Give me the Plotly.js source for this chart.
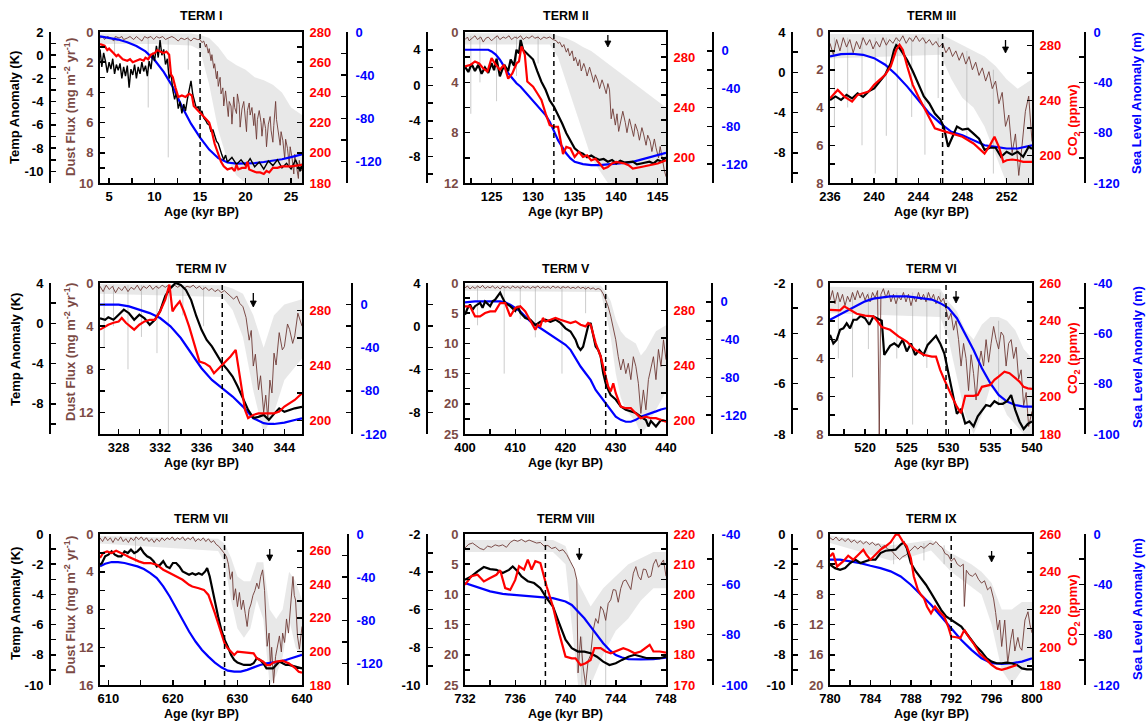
<!DOCTYPE html>
<html><head><meta charset="utf-8">
<script src="https://cdn.plot.ly/plotly-3.0.1.min.js"></script>
<style>html,body{margin:0;padding:0;background:#fff}#chart{width:1147px;height:721px}</style>
</head><body><div id="chart"></div>
<script>
// ---------------- DATA (age kyr BP, value) ----------------
const titles = ['TERM I','TERM II','TERM III','TERM IV','TERM V','TERM VI','TERM VII','TERM VIII','TERM IX'];

// Panel I
const temp1 = [[4.0,0.5],[4.2,-1.0],[4.4,0.2],[4.6,-0.5],[4.8,-1.5],[5.0,-0.6],[5.2,-1.2],[5.4,-0.3],[5.6,-1.6],[5.8,-0.8],[6.0,-1.3],[6.2,-0.7],[6.4,-2.0],[6.6,-1.0],[6.8,-1.8],[7.0,-0.9],[7.2,-2.8],[7.4,-1.2],[7.6,-1.7],[7.8,-0.8],[8.0,-2.0],[8.2,-1.0],[8.4,-1.6],[8.6,-0.6],[8.8,-1.4],[9.0,-0.9],[9.2,-1.8],[9.4,-0.5],[9.6,-1.2],[9.8,0.2],[10.0,-0.5],[10.2,0.8],[10.4,-0.2],[10.6,1.3],[10.8,0.0],[11.0,0.5],[11.2,-0.8],[11.4,-0.3],[11.6,-2.0],[11.8,-1.5],[12.0,-3.0],[12.2,-3.8],[12.4,-3.2],[12.6,-4.6],[12.8,-4.0],[13.0,-5.0],[13.2,-4.2],[13.4,-4.8],[13.6,-3.8],[13.8,-3.0],[14.0,-2.2],[14.2,-3.4],[14.4,-4.0],[14.6,-4.6],[14.8,-4.4],[15.0,-5.0],[15.2,-4.8],[15.4,-5.4],[15.6,-5.6],[15.8,-5.9],[16.0,-6.0],[16.2,-6.6],[16.4,-6.4],[16.6,-7.0],[16.8,-7.4],[17.0,-7.6],[17.2,-8.2],[17.4,-8.6],[17.6,-9.0],[17.8,-8.6],[18.0,-9.2],[18.5,-8.8],[19.0,-9.4],[19.5,-9.0],[20.0,-9.5],[20.5,-8.9],[21.0,-9.6],[21.5,-9.2],[22.0,-9.8],[22.5,-9.1],[23.0,-9.5],[23.5,-9.0],[24.0,-9.7],[24.5,-9.3],[25.0,-9.8],[25.5,-9.0],[26.0,-10.0],[26.2,-9.4]];
const co2_1 = [[4.0,272],[4.5,271],[4.8,268],[5.0,269],[5.5,266],[5.8,264],[6.0,265],[6.5,262],[7.0,261],[7.3,262],[7.6,260],[8.0,261],[8.4,262],[8.8,261],[9.0,263],[9.3,262],[9.6,265],[10.0,266],[10.3,268],[10.6,267],[11.0,266],[11.3,267],[11.6,265],[11.8,252],[12.0,250],[12.3,243],[12.6,237],[13.0,238],[13.4,237],[13.8,239],[14.1,238],[14.3,231],[14.8,228],[15.3,225],[15.7,222],[16.0,220],[16.3,214],[16.6,206],[17.0,199],[17.3,194],[17.6,191],[18.0,189],[18.5,190],[18.8,188],[19.0,192],[19.2,189],[19.6,190],[20.0,190],[20.2,194],[20.4,189],[20.8,188],[21.2,187],[21.6,187],[22.0,186],[22.3,188],[22.6,187],[23.0,190],[23.5,190],[24.0,191],[25.0,191],[26.2,192]];
const sea1 = [[4,-4],[5,-5.5],[6,-7],[7,-9.5],[8,-13],[9,-18],[10,-26],[11,-37],[12,-51],[13,-69],[14,-85],[15,-98],[16,-109],[17,-117],[18,-121],[19,-122],[20,-122],[21,-121.5],[22,-120.5],[23,-119.5],[24,-118],[25,-116],[26.2,-113.5]];
const dust1 = [[4.0,0.4],[4.3,0.3],[4.5,0.5],[4.8,0.3],[5.2,0.4],[5.5,0.6],[5.7,0.3],[6.1,0.4],[6.4,0.3],[6.6,0.5],[7.0,0.4],[7.3,0.3],[7.7,0.5],[8.0,0.3],[8.2,0.4],[8.6,0.6],[8.9,0.3],[9.2,0.4],[9.6,0.3],[9.9,0.5],[10.2,0.3],[10.5,0.4],[10.9,0.3],[11.2,0.5],[11.5,0.4],[11.9,0.3],[12.2,0.4],[12.6,0.6],[12.9,0.4],[13.3,0.5],[13.6,0.4],[14.0,0.6],[14.3,0.4],[14.7,0.5],[15.0,0.5],[15.2,0.7],[15.4,0.6],[15.6,1.0],[15.7,0.8],[15.9,1.4],[16.0,1.1],[16.2,1.9],[16.3,1.5],[16.5,2.4],[16.6,2.1],[16.8,3.1],[16.9,2.6],[17.0,3.6],[17.2,3.0],[17.3,4.1],[17.5,3.7],[17.6,4.9],[17.8,3.9],[17.9,4.4],[18.1,5.6],[18.2,4.6],[18.4,4.9],[18.5,6.1],[18.7,4.3],[18.8,5.0],[19.0,5.4],[19.1,4.1],[19.3,4.8],[19.4,6.3],[19.6,5.1],[19.8,4.6],[19.9,5.3],[20.1,6.6],[20.2,5.2],[20.4,4.7],[20.5,5.5],[20.7,5.0],[20.9,6.2],[21.0,5.4],[21.2,7.1],[21.3,5.8],[21.5,5.2],[21.7,6.0],[21.8,6.9],[22.0,5.7],[22.2,6.4],[22.3,7.6],[22.5,6.1],[22.7,5.6],[22.8,6.5],[23.0,7.3],[23.1,6.2],[23.3,4.6],[23.4,5.8],[23.6,6.8],[23.8,7.5],[23.9,6.6],[24.1,7.2],[24.3,8.4],[24.4,7.1],[24.6,7.7],[24.8,8.8],[24.9,7.6],[25.1,8.3],[25.3,9.4],[25.4,8.1],[25.6,8.9],[25.8,9.7],[25.9,8.5],[26.1,9.2],[26.2,8.7]];
const spikes1 = [[5.6,0.3,1.5],[9.3,0.3,5],[11.5,0.4,8.3],[13.7,0.3,2.5]];
const band1 = [[4,0.1,0.8],[10,0.1,0.8],[14,0.1,0.9],[15,0.2,1.2],[16,0.4,3.5],[17,1,6.5],[18,1.8,8.5],[19,2.2,9.5],[20,2.5,10],[21,3,10],[22,3.2,10],[23,3.5,10],[24,4,10],[25,5,10],[26.2,5.5,10]];

// Panel II
const temp2 = [[121.8,2.1],[122.2,1.5],[122.6,2.4],[123.0,1.6],[123.4,2.3],[123.8,1.3],[124.2,2.0],[124.6,1.4],[125.0,2.5],[125.3,1.7],[125.6,3.0],[126.0,1.0],[126.3,1.8],[126.6,2.2],[127.0,1.6],[127.3,2.9],[127.7,2.2],[128.0,4.0],[128.3,3.6],[128.5,5.1],[128.8,4.0],[129.0,3.8],[129.5,3.4],[130.0,2.9],[130.5,1.6],[131.0,0.4],[131.5,-0.5],[132.0,-1.7],[132.5,-2.4],[133.0,-3.3],[133.5,-4.3],[134.0,-5.4],[134.5,-6.2],[135.0,-7.1],[135.5,-7.5],[136.0,-7.7],[136.5,-8.1],[137.0,-7.9],[137.5,-8.2],[138.0,-8.4],[138.5,-8.3],[139.0,-8.6],[139.5,-8.4],[140.0,-8.8],[140.5,-8.5],[141.0,-8.7],[142.0,-8.6],[142.5,-8.9],[143.0,-8.8],[144.0,-8.6],[144.5,-8.8],[145.0,-8.4],[145.5,-8.6],[146.0,-8.1]];
const co2_2 = [[121.8,272.6],[122.5,274],[123.0,276.6],[123.5,275],[124.0,271],[124.5,268.6],[125.0,279.2],[125.5,274],[126.0,270],[126.5,274],[127.0,263],[127.5,267],[128.0,275],[128.3,276.6],[128.6,288.6],[129.0,282],[129.3,260.6],[130.0,256.6],[130.5,251.3],[131.0,246],[131.5,235.3],[132.0,226],[132.5,224.7],[133.0,224.7],[133.3,214],[133.6,203],[134.0,208.7],[134.5,207.5],[135.0,200.7],[135.5,204.7],[136.0,200.7],[136.5,202],[137.0,198],[137.5,199.3],[138.0,195.5],[138.5,191.4],[139.0,192.7],[139.5,195.5],[140.0,196.8],[141.0,195.5],[141.5,194.2],[142.0,191.4],[143.0,192.7],[144.0,194.2],[145.0,195.5],[146.0,198]];
const sea2 = [[121.8,1.2],[123,1.2],[124.6,1.2],[125,-0.6],[125.5,-4],[126,-9.4],[126.5,-16.5],[127,-23.6],[127.5,-29],[128,-34.3],[128.5,-38],[129,-43],[129.5,-47],[130,-52],[130.5,-57.3],[131,-62.6],[131.5,-68],[132,-75],[132.5,-84],[133,-94.6],[133.5,-101.7],[134,-108.8],[134.5,-114],[135,-117.6],[136,-120],[137,-121],[138,-121],[139,-120.4],[140,-119.4],[141,-118.7],[142,-117.6],[143,-115.2],[144,-113],[145,-110.6],[146,-108]];
const dust2 = [[121.8,0.6],[122.1,0.4],[122.3,0.7],[122.7,0.5],[123.0,0.3],[123.3,0.6],[123.7,0.4],[124.0,0.8],[124.3,0.5],[124.6,0.4],[125.0,0.7],[125.3,0.5],[125.7,0.3],[126.0,0.6],[126.4,0.4],[126.7,0.5],[127.1,0.3],[127.4,0.6],[127.8,0.4],[128.1,0.5],[128.5,0.3],[128.8,0.6],[129.2,0.4],[129.5,0.5],[129.9,0.3],[130.2,0.5],[130.6,0.4],[130.9,0.6],[131.3,0.4],[131.6,0.5],[132.0,0.4],[132.4,0.6],[132.8,0.7],[133.0,0.9],[133.2,0.8],[133.5,1.2],[133.7,1.0],[134.0,1.6],[134.2,1.3],[134.4,1.9],[134.7,1.5],[134.9,2.3],[135.1,2.0],[135.4,2.7],[135.6,2.2],[135.8,3.1],[136.1,2.5],[136.3,2.9],[136.5,3.5],[136.8,2.8],[137.0,3.3],[137.3,4.0],[137.5,3.4],[137.8,3.9],[138.0,4.5],[138.3,3.8],[138.5,4.2],[138.8,4.9],[139.0,4.1],[139.2,4.6],[139.4,6.9],[139.6,6.1],[139.9,7.4],[140.1,6.5],[140.3,7.9],[140.6,7.0],[140.8,6.3],[141.1,7.2],[141.3,8.0],[141.6,6.9],[141.8,7.5],[142.1,8.3],[142.3,7.3],[142.6,7.9],[142.8,8.6],[143.1,7.6],[143.3,8.1],[143.6,9.0],[143.8,8.2],[144.1,8.7],[144.3,9.5],[144.6,8.5],[144.8,9.2],[145.1,10.0],[145.3,9.1],[145.6,10.4],[145.8,11.0],[146.0,11.5]];
const spikes2 = [[122.5,0.3,6.5],[123.6,0.3,4],[125.6,0.3,5.5],[128,0.3,3.5],[130.6,0.3,2.5]];
const band2 = [[121.8,0.1,1.0],[132,0.1,1.0],[133,0.3,2],[134,0.5,4],[135,0.8,6],[136,1.2,8],[137,1.5,10],[138,2,11],[139,2.5,12],[140,3,12],[142,4,12],[144,5,12],[146,6,12]];

// Panel III
const temp3 = [[236,-2.75],[236.5,-2.4],[237,-2.75],[237.5,-2.25],[238,-2.6],[238.5,-2.1],[239,-2.45],[239.5,-1.9],[240,-1.6],[240.5,-0.9],[241,-0.25],[241.5,0.9],[241.8,2.2],[242,2.7],[242.3,2.4],[242.6,1.9],[243,1.2],[243.5,0.1],[244,-1.1],[244.5,-2.4],[245,-3.1],[245.5,-4.1],[246,-4.7],[246.3,-5.4],[246.7,-7.4],[247,-6.7],[247.5,-5.4],[248,-5.7],[248.5,-5.6],[249,-6.1],[249.5,-6.6],[250,-7.7],[250.5,-7.5],[251,-7.5],[251.5,-8.4],[252,-7.9],[252.5,-8.2],[253,-7.9],[253.5,-8.4],[254,-7.4],[254.3,-7.6]];
const co2_3 = [[236,241.7],[236.7,247.8],[237.3,243],[238,239.3],[238.5,244.2],[239,245.4],[239.5,246.6],[240,251.5],[240.5,255],[241,258.8],[241.5,264.9],[242,277],[242.3,280.7],[242.6,277],[243,264.9],[243.5,251.5],[244,243],[244.5,235.6],[245,228.3],[245.5,219.8],[246,218.5],[246.5,217.3],[247,216],[248,213.7],[249,208.8],[250,201.5],[250.5,207.6],[250.9,213.7],[251.3,206.4],[251.7,195.4],[252,196.6],[252.5,197.1],[253,196.6],[253.5,195.4],[254.3,195.4]];
const sea3 = [[236,-19.4],[237,-17.6],[238,-17.3],[239,-18.1],[240,-20.8],[241,-26],[242,-34],[243,-43.4],[244,-54],[245,-64.7],[246,-72.6],[247,-79.3],[248,-82],[249,-86],[250,-90],[251,-91.3],[252,-92.6],[253,-92.6],[254.3,-90]];
const dust3 = [[236,0.6],[236.3,1.2],[236.6,0.4],[236.9,1.0],[237.2,0.3],[237.5,0.8],[237.8,0.4],[238.1,1.1],[238.4,0.5],[238.7,0.9],[239,0.3],[239.3,0.7],[239.6,0.4],[239.9,0.9],[240.2,0.5],[240.5,0.8],[240.8,0.3],[241.1,0.7],[241.4,0.4],[241.7,0.6],[242,0.3],[242.3,0.5],[242.6,0.2],[242.9,0.6],[243.2,0.3],[243.5,0.5],[243.8,0.2],[244.1,0.5],[244.4,0.3],[244.7,0.6],[245,0.4],[245.3,0.7],[245.6,0.5],[245.9,0.8],[246.2,0.6],[246.5,1.1],[246.8,0.8],[247.1,1.3],[247.4,1.0],[247.7,1.5],[248,1.1],[248.3,1.7],[248.6,1.3],[248.9,2.0],[249.2,1.6],[249.5,2.3],[249.8,1.9],[250.1,2.6],[250.4,2.1],[250.7,3.0],[251,2.6],[251.3,3.8],[251.6,3.2],[251.9,5.0],[252.2,4.4],[252.5,6.4],[252.8,5.4],[253.1,7.6],[253.4,6.0],[253.7,4.2],[254,3.4],[254.3,5.8]];
const spikes3 = [[236.4,0.3,5],[237.6,0.3,4],[238.9,0.3,6],[240.1,0.3,7.5],[241.1,0.3,5.5],[242.1,0.3,8],[243.4,0.3,4.5],[244.6,0.3,6.5],[245.8,0.3,3.5],[248.4,1,5.5],[250.8,2,7.5]];
const band3 = [[236,0.1,1.4],[246,0.1,1.2],[247,0.4,2.5],[248,0.7,3.5],[249,1,4],[250,1.3,5],[251,1.8,6.5],[252,2.5,8],[253,3,8],[254.3,2.5,8]];

// Panel IV
const temp4 = [[326.2,0.5],[326.7,0.35],[327,0.6],[327.5,0.35],[328,0.85],[328.5,1.35],[329,1.0],[329.5,0.35],[330,0.85],[330.5,0.5],[331,-0.15],[331.5,0.35],[332,1.2],[332.5,2.7],[333,3.5],[333.5,4.0],[334,3.8],[334.5,3.3],[335,2.3],[335.5,0.7],[336,-0.65],[336.5,-1.65],[337,-2.3],[337.5,-3.1],[338,-4.0],[338.5,-4.6],[339,-5.3],[339.5,-6.3],[340,-7.5],[340.5,-8.6],[341,-9.4],[341.5,-9.3],[342,-9.1],[342.5,-9.6],[343,-9.0],[343.5,-8.45],[344,-8.8],[344.5,-8.6],[345,-8.45],[345.7,-8.3]];
const co2_4 = [[326.2,266],[327,269.6],[327.5,271],[328,272],[328.3,274.5],[328.7,271],[329.5,266],[330,269.6],[330.5,272],[331,273.2],[331.5,273.2],[332,279.3],[332.5,287.8],[332.9,298.8],[333.2,279.3],[333.5,282.9],[333.9,286.6],[334.3,279.3],[334.8,268.4],[335.3,256.2],[335.8,242.8],[336.3,241.6],[336.8,239.2],[337.2,234.3],[337.7,238],[338.3,242.8],[338.8,246.5],[339.3,251.3],[339.7,231.9],[340.2,207.5],[340.5,201.5],[341,203.9],[341.5,205],[342,205],[343,205],[343.5,206.3],[344,210],[345,214.8],[345.7,219.7]];
const sea4 = [[326.2,-0.1],[327,-0.1],[328,-0.1],[329,-1.7],[330,-4.8],[331,-7.9],[332,-12.5],[333,-20.2],[334,-31],[335,-45],[336,-59],[337,-69.8],[338,-77.5],[339,-85.3],[340,-94.6],[341,-105.4],[342,-110],[342.5,-110.7],[343,-110.7],[344,-109.5],[345,-107],[345.7,-105.4]];
const dust4 = [[326.2,0.3],[326.5,0.8],[326.8,0.2],[327.1,0.6],[327.4,0.3],[327.7,0.9],[328,0.4],[328.3,0.7],[328.6,0.3],[328.9,0.8],[329.2,0.4],[329.5,0.6],[329.8,0.2],[330.1,0.7],[330.4,0.3],[330.7,0.5],[331,0.2],[331.3,0.6],[331.6,0.3],[331.9,0.5],[332.2,0.2],[332.5,0.4],[332.8,0.2],[333.1,0.5],[333.4,0.2],[333.7,0.4],[334,0.2],[334.3,0.5],[334.6,0.3],[334.9,0.4],[335.2,0.2],[335.5,0.5],[335.8,0.3],[336.1,0.6],[336.4,0.4],[336.7,0.7],[337,0.5],[337.3,0.8],[337.6,0.6],[337.9,0.9],[338.2,0.7],[338.5,1.0],[338.8,1.2],[339.1,1.5],[339.4,1.2],[339.7,1.9],[340,2.2],[340.3,3.2],[340.6,5.3],[340.8,4.4],[341,7.7],[341.2,6.6],[341.5,9.9],[341.7,8.6],[342,12],[342.2,10.4],[342.4,12.6],[342.6,9.0],[342.8,10.2],[343,6.5],[343.2,7.6],[343.5,4.6],[343.8,6.2],[344,5.9],[344.3,3.8],[344.5,4.3],[344.8,5.6],[345,4.9],[345.3,2.8],[345.5,3.4],[345.7,4.0]];
const spikes4 = [[326.6,0.2,6],[327.5,0.2,4],[328.9,0.2,8],[330.2,0.2,5],[331.7,0.2,6.5],[332.8,0.2,14],[334.2,0.2,3],[336.2,0.3,4]];
const band4 = [[326.2,0.1,1],[338,0.2,1.3],[339,0.5,2.5],[340,1,5],[341,3,10],[342,6,14],[343,3,12],[344,2,9],[345.7,1.5,7]];

// Panel V
const temp5 = [[400,1.05],[400.5,1.65],[401,2.0],[401.5,1.5],[402,1.85],[403,2.15],[403.5,1.7],[404,2.3],[405,1.85],[405.5,2.3],[406,2.45],[406.5,2.75],[407,3.1],[407.5,2.6],[408,2.15],[409,1.85],[410,1.4],[410.5,1.85],[411,1.25],[412,0.75],[413,0.6],[414,0.1],[415,0.4],[416,0.6],[417,0.4],[418,0.6],[419,0.3],[420,-0.2],[421,-0.5],[422,-1.25],[422.5,-1.9],[423,-2.2],[423.5,-1.9],[424,-0.95],[424.5,0.0],[425,0.3],[425.5,-0.95],[426,-1.9],[426.5,-2.2],[427,-2.8],[427.5,-4.35],[428,-5.3],[428.5,-5.9],[429,-6.4],[430,-6.8],[431,-7.45],[432,-7.75],[433,-7.9],[434,-8.05],[435,-8.4],[436,-8.7],[436.5,-9.3],[437,-8.8],[438,-9.3],[439,-8.7],[440,-8.8]];
const co2_5 = [[400,283],[401,283],[402,275.7],[403,275.7],[404,278.1],[405,279.3],[406,279.3],[407,285.4],[408,285.4],[409,275.7],[410,281.8],[411,283],[412,279.3],[413,273],[414,266],[414.5,269.6],[415,268.4],[415.5,274.5],[416,272],[417,273.2],[418,274.5],[419,273.2],[420,272],[421,270.8],[422,272],[423,269.6],[424,268.4],[424.5,270.8],[425,269.6],[426,256.2],[427,246.5],[428,231.9],[428.5,224.6],[429,221],[429.5,227],[430,219.7],[431,210],[432,208.8],[433,208.8],[434,205],[435,201.5],[436,202.6],[437,201.5],[438,201.5],[439,200.2],[440,199]];
const sea5 = [[400,-0.5],[402,0.5],[404,0.5],[406,0.5],[407,0.5],[408,-0.5],[409,-3],[410,-6.5],[411,-10],[412,-15.4],[413,-20.7],[414,-24.2],[415,-27.8],[416,-31.3],[417,-34.9],[418,-38.4],[419,-42],[420,-45.5],[421,-50.8],[422,-59.6],[423,-68.5],[424,-75.6],[425,-82.7],[426,-93.3],[427,-100.4],[428,-107.4],[429,-114.5],[430,-121.6],[431,-125],[432,-127],[433,-127],[434,-125],[435,-121.6],[436,-120],[437,-118],[438,-116],[439,-114],[440,-112.7]];
const dust5 = [[400,0.8],[400.5,0.5],[401,1.0],[401.5,0.6],[402,0.9],[402.5,0.5],[403,0.8],[403.5,0.4],[404,0.9],[404.5,0.6],[405,0.8],[405.5,0.5],[406,0.9],[406.5,0.6],[407,1.0],[407.5,0.5],[408,0.8],[408.5,0.6],[409,0.9],[409.5,0.5],[410,0.8],[410.5,0.6],[411,0.9],[411.5,0.5],[412,0.8],[412.5,0.6],[413,0.9],[413.5,0.6],[414,0.8],[414.5,0.5],[415,0.9],[415.5,0.6],[416,0.8],[416.5,0.6],[417,0.9],[417.5,0.5],[418,0.8],[418.5,0.6],[419,0.9],[419.5,0.6],[420,0.8],[420.5,0.6],[421,0.9],[421.5,0.7],[422,0.9],[422.5,0.6],[423,0.9],[423.5,0.7],[424,1.0],[424.5,0.7],[425,1.0],[425.5,0.8],[426,1.1],[426.5,0.9],[427,1.1],[427.5,1.8],[428,2.8],[428.5,3.9],[429,5.5],[429.5,7.2],[430,9.4],[430.5,12.2],[431,14.4],[431.5,12.6],[432,15],[432.5,13.3],[433,16],[433.5,12.2],[434,13.8],[434.5,16.6],[435,21.6],[435.5,17.7],[436,21],[436.5,16],[437,13.8],[437.5,12.2],[438,16],[438.5,11],[439,13.8],[439.5,9.4],[440,12.7]];
const spikes5 = [[402.5,0.5,7],[407.8,0.5,15],[411,0.5,6],[414,0.5,9],[419.3,0.5,15],[424,0.5,5]];
const band5 = [[400,0.3,1.3],[427,0.4,1.5],[428,1.5,5],[429,3,9],[430,6,15],[431,8,19],[432,9,21],[434,10,23],[435,12,25],[436,11,24],[438,8,21],[440,7,18]];

// Panel VI
const temp6 = [[515.8,-4.06],[516.2,-4.4],[516.6,-4.26],[517,-3.86],[517.4,-3.8],[517.8,-3.6],[518.2,-3.8],[518.6,-3.46],[519,-3.46],[519.5,-3.3],[520,-3.4],[520.5,-3.66],[521,-3.33],[521.5,-3.4],[522,-3.5],[522.3,-4.86],[522.7,-4.66],[523,-4.5],[523.5,-4.4],[524,-4.53],[524.5,-4.26],[525,-4.72],[525.5,-4.4],[526,-4.86],[526.5,-4.66],[527,-4.86],[527.5,-4.46],[528,-4.26],[528.5,-4.1],[529,-4.4],[529.5,-4.8],[530,-5.6],[530.5,-6.4],[531,-7.2],[531.5,-7.0],[532,-7.58],[532.5,-7.5],[533,-7.7],[533.5,-7.3],[534,-7.05],[534.5,-6.85],[535,-6.9],[535.5,-6.7],[536,-6.8],[536.5,-6.8],[537,-6.7],[537.5,-6.45],[538,-7.05],[538.5,-7.5],[539,-7.8],[539.5,-7.6],[540,-7.5]];
const co2_6 = [[515.8,245.8],[516.5,245.5],[517,245.5],[517.5,247.6],[518,246.2],[519,243.7],[520,242.7],[521,242.3],[521.5,239.6],[522,236.6],[523,235.2],[524,231.7],[525,229],[526,224.6],[527,222],[528,221],[528.5,221],[529,214],[529.5,208.7],[530,203.4],[530.5,199],[531,194.5],[531.5,191],[532,200.2],[533,200.2],[533.5,200.7],[534,205],[535,206],[535.5,208.7],[536,210.4],[536.7,213],[537.3,212.2],[538,209.6],[538.5,207.8],[539,205],[539.5,204.2],[540,203.9]];
const sea6 = [[515.8,-54.6],[517,-52.6],[518,-50.9],[519,-49.3],[520,-47.3],[521,-46.2],[522,-45.6],[523,-45.3],[524,-45.3],[525,-45.3],[526,-45.7],[527,-46.2],[528,-46.6],[529,-48],[530,-50],[531,-54],[532,-60],[533,-66.6],[534,-73.9],[535,-79.8],[536,-84.5],[537,-87.1],[538,-88.5],[539,-89.1],[540,-89.1]];
const dust6 = [[515.8,0.9],[516.1,0.4],[516.4,1.1],[516.7,0.5],[517,1.0],[517.3,0.6],[517.6,1.2],[517.9,0.7],[518.2,1.0],[518.5,0.5],[518.8,0.9],[519.1,0.4],[519.4,0.8],[519.7,0.5],[520,0.9],[520.3,0.6],[520.6,1.0],[520.9,0.5],[521.2,0.8],[521.5,0.4],[521.7,8],[521.9,0.6],[522.2,0.3],[522.5,0.8],[522.8,0.4],[523.1,1.0],[523.4,0.6],[523.7,1.1],[524,0.7],[524.3,0.9],[524.6,0.5],[524.9,1.0],[525.2,0.6],[525.5,1.2],[525.8,0.7],[526.1,1.0],[526.4,0.5],[526.7,0.9],[527,0.6],[527.3,1.0],[527.6,0.5],[527.9,0.9],[528.2,0.6],[528.5,1.1],[528.8,0.7],[529.1,1.0],[529.4,0.8],[529.7,1.3],[530,1.95],[530.3,1.6],[530.6,2.5],[530.9,2.0],[531.2,3.0],[531.5,4.4],[531.8,3.2],[532.1,4.0],[532.4,5.7],[532.7,3.8],[533,4.8],[533.3,6.2],[533.6,4.4],[533.9,3.6],[534.2,4.4],[534.5,3.0],[534.8,4.2],[535.1,3.2],[535.4,2.3],[535.7,3.0],[536,3.5],[536.3,2.6],[536.6,2.8],[536.9,4.4],[537.2,3.2],[537.5,3.0],[537.8,4.0],[538.1,3.4],[538.4,5.1],[538.7,4.6],[539,6.5],[539.3,5.8],[539.6,7.6],[540,6.8]];
const spikes6 = [[516.8,0.5,4],[518.5,0.5,5],[520.4,0.5,3.5],[523.8,0.5,4],[525.7,0.5,7.5],[527.4,0.5,4.5],[529,0.5,3],[536,2,6.5]];
const band6 = [[515.8,0.2,1.6],[529,0.3,1.8],[530,1,3],[531,1.5,5],[532,2.5,7],[533,3,8],[534,2.2,7],[535,1.8,5.5],[536,1.8,6],[537,2,7],[538,2.5,7.5],[539,3.5,8],[540,4,8]];

// Panel VII
const temp7 = [[608.7,-2.03],[609,-1.92],[609.5,-1.48],[610,-1.37],[610.5,-1.15],[611,-1.37],[611.5,-1.48],[612,-1.48],[612.5,-1.15],[613,-1.26],[613.5,-1.04],[614,-1.26],[614.5,-1.15],[615,-0.93],[615.5,-1.26],[616,-1.48],[616.5,-1.59],[617,-1.8],[617.5,-2.15],[618,-2.04],[618.5,-1.8],[619,-2.15],[619.5,-2.26],[620,-1.92],[620.5,-1.92],[621,-2.15],[621.5,-2.48],[622,-2.6],[622.5,-2.7],[623,-2.6],[623.5,-2.7],[624,-2.6],[624.5,-2.7],[625,-2.48],[625.3,-2.26],[625.7,-2.81],[626,-3.47],[626.5,-4.47],[627,-5.46],[627.5,-6.35],[628,-7.0],[628.5,-7.46],[629,-8.0],[629.5,-8.34],[630,-8.52],[631,-8.67],[632,-8.67],[632.5,-8.56],[633,-8.23],[633.5,-8.34],[634,-8.56],[634.5,-8.9],[635,-8.9],[635.5,-8.9],[636,-8.67],[636.5,-8.45],[637,-8.56],[637.5,-8.67],[638,-8.67],[639,-8.78],[640,-8.9]];
const co2_7 = [[608.7,255.7],[609.2,258.7],[609.8,259.6],[610.5,258.7],[611.2,260],[611.8,258.7],[612.5,257.7],[613.2,256.3],[614,254.7],[614.7,253.7],[615.5,252.7],[616.5,252.7],[617.5,251.7],[618.5,248.7],[619.5,246.7],[620.5,244.7],[621.5,242.7],[622.5,239.7],[623,238.7],[624,237.7],[624.8,236.7],[625.5,233.7],[626,228.8],[626.5,222.8],[627,216.8],[627.5,210.8],[628,204.9],[628.5,201.9],[629,199.9],[629.5,197.9],[630,199.9],[631,199.5],[632,199.3],[632.5,198.9],[633,195.9],[633.5,194.9],[634,193.9],[634.5,191.9],[635,191.9],[635.5,193.3],[636,193.9],[637,194.5],[637.5,193.9],[638,192.9],[639,189.9],[639.5,187.9],[640,187.3]];
const sea7 = [[608.7,-30],[609.5,-27.6],[610.5,-26],[611.5,-26],[612.5,-26.9],[613.5,-28.5],[614.5,-30],[615.5,-32.5],[616.5,-36.2],[617.5,-40.9],[618.5,-48.6],[619.5,-57.9],[620.5,-68.8],[621.5,-79.6],[622.5,-90.4],[623.5,-99.7],[624.5,-107.5],[625.5,-113.7],[626.5,-119.2],[627.5,-123.6],[628.5,-126.7],[629.5,-127.6],[630.5,-127.6],[631.5,-126],[632.5,-123.6],[633.5,-121.4],[634.5,-119.9],[635.5,-119.2],[636.5,-118.3],[637.5,-116.8],[638.5,-115.2],[639.5,-113],[640,-112.1]];
const dust7 = [[608.7,0.4],[609.1,0.8],[609.5,0.3],[609.9,0.7],[610.3,0.4],[610.7,0.9],[611.1,0.4],[611.5,0.7],[611.9,0.3],[612.3,0.8],[612.7,0.5],[613.1,0.9],[613.5,0.4],[613.9,0.7],[614.3,0.3],[614.7,0.6],[615.1,0.3],[615.5,0.7],[615.9,0.4],[616.3,0.8],[616.7,0.5],[617.1,0.9],[617.5,0.5],[617.9,0.8],[618.3,0.4],[618.7,0.7],[619.1,0.4],[619.5,0.6],[619.9,0.3],[620.3,0.7],[620.7,0.4],[621.1,0.6],[621.5,0.3],[621.9,0.7],[622.3,0.4],[622.7,0.6],[623.1,0.3],[623.5,0.8],[623.9,0.5],[624.3,0.7],[624.7,0.4],[625.1,0.8],[625.5,0.5],[625.9,0.9],[626.3,0.7],[626.7,1.1],[627.1,1.3],[627.5,1.6],[627.9,2.0],[628.3,2.4],[628.6,3.2],[628.9,4.8],[629.2,4.0],[629.4,7.0],[629.7,5.8],[630,7.7],[630.3,6.2],[630.6,8.0],[630.9,7.0],[631.2,8.4],[631.5,9.8],[631.8,8.0],[632.1,7.4],[632.4,6.5],[632.7,6.0],[633,5.2],[633.3,5.8],[633.6,4.5],[633.9,3.8],[634.2,6.0],[634.4,9.0],[634.6,11.9],[634.9,10.5],[635.1,14],[635.3,12],[635.6,15.8],[635.9,13],[636.2,12],[636.5,10.8],[636.8,12.5],[637,10.5],[637.3,11.5],[637.6,9.0],[637.9,10.5],[638.2,8.0],[638.4,5.6],[638.6,4.5],[638.8,6.5],[639,7.0],[639.3,10.8],[639.6,12.2],[640,9.8]];
const spikes7 = [[614.2,0.3,3]];
const band7 = [[608.7,0.2,1],[627,0.5,1.8],[628,1,3],[629,2.5,7],[630,4.5,10],[631,5,11],[632,5,10],[633,3,7],[634,3,9],[635,8,16],[636,9,15],[637,8,13],[638,4,9],[639,5,12],[640,7,13]];

// Panel VIII
const temp8 = [[732,-4.42],[732.5,-4.25],[733,-3.98],[733.5,-3.75],[734,-3.86],[734.5,-3.9],[735,-4.07],[735.5,-3.9],[735.8,-3.72],[736.2,-3.98],[736.5,-4.25],[737,-4.5],[737.5,-4.6],[738,-4.87],[738.5,-5.4],[739,-5.84],[739.5,-6.73],[740,-7.6],[740.5,-8.05],[741,-8.23],[741.5,-8.23],[742,-8.32],[742.5,-8.5],[743,-8.76],[743.5,-8.94],[744,-8.85],[744.5,-8.67],[745,-8.5],[745.5,-8.4],[746,-8.5],[746.5,-8.58],[747,-8.58],[747.5,-8.58],[748,-8.5]];
const co2_8 = [[732,203.2],[732.5,206],[733,206.5],[733.5,204.3],[734,205.4],[734.5,206.5],[734.8,208],[735.2,202.1],[735.6,201.5],[736,204.8],[736.3,209.3],[736.7,208.2],[737,211.5],[737.3,208.2],[737.6,211],[738,210.4],[738.5,202.6],[739,196],[739.5,187.1],[740,179.4],[740.5,178.8],[740.8,178.8],[741.2,176.6],[741.6,177.2],[742,178.3],[742.3,182.2],[742.8,182.2],[743.2,181.1],[743.6,180.5],[744,181.1],[744.6,182.2],[745,181.6],[745.5,180.5],[746,181.1],[746.7,183.3],[747,181.1],[747.5,181.1],[748,180.7]];
const sea8 = [[732,-59.5],[733,-61.1],[734,-62.8],[735,-63.8],[736,-64.3],[737,-64.6],[738,-65.1],[739,-65.5],[740,-66.8],[740.5,-68.2],[741,-70.8],[741.5,-73.5],[742,-76.8],[742.5,-80.1],[743,-83.4],[743.5,-86.1],[744,-88.1],[744.5,-89.1],[745,-89.7],[746,-89.8],[747,-89.7],[748,-89.1]];
const dust8 = [[732,2.3],[732.3,1.7],[732.6,1.5],[732.9,2.0],[733.2,2.4],[733.5,2.6],[733.8,2.0],[734.1,2.2],[734.4,1.8],[734.7,2.0],[735,1.8],[735.3,2.2],[735.6,1.4],[735.9,1.0],[736.2,1.2],[736.5,0.9],[736.8,1.3],[737.1,1.0],[737.4,1.2],[737.7,1.5],[738,1.4],[738.3,2.0],[738.6,1.9],[738.9,2.4],[739.2,2.2],[739.5,2.8],[739.8,2.6],[740.1,3.4],[740.4,4.6],[740.7,5.8],[740.9,7.6],[741,23],[741.2,17],[741.4,22],[741.6,25],[741.8,21],[742,20],[742.2,16],[742.4,14],[742.6,14.8],[742.8,12],[743,12.6],[743.2,14.3],[743.4,11.5],[743.6,10.9],[743.8,9.2],[744,9.3],[744.2,11.3],[744.4,9.0],[744.6,7.8],[744.8,7.6],[745,8.5],[745.2,9.2],[745.4,6.5],[745.6,5.4],[745.8,7.0],[746,7.6],[746.2,5.8],[746.4,5.9],[746.6,7.2],[746.8,7.0],[747,5.0],[747.2,4.2],[747.4,5.5],[747.6,4.8],[747.8,4.3],[748,7.0]];
const spikes8 = [[741.3,17,25],[743.2,13,25]];
const band8 = [[732,1,3],[739,1,3],[740,2,5],[741,8,25],[742,12,25],[743,9,20],[744,7,16],[745,5,14],[746,4,11],[747,3,9],[748,3,9]];

// Panel IX
const temp9 = [[780,-2.03],[780.5,-2.26],[781,-2.37],[781.5,-2.26],[782,-1.92],[782.5,-1.7],[783,-1.92],[783.5,-1.81],[784,-1.7],[784.5,-1.7],[785,-1.26],[785.5,-1.11],[786,-1.08],[786.5,-1.04],[787,-0.7],[787.3,-0.55],[787.6,-0.93],[788,-1.92],[788.5,-2.48],[789,-2.92],[789.5,-3.36],[790,-3.9],[790.5,-4.47],[791,-5.02],[791.5,-5.46],[792,-5.69],[792.5,-5.91],[793,-6.13],[793.5,-6.57],[794,-7.0],[794.5,-7.46],[795,-7.79],[795.5,-8.23],[796,-8.45],[796.5,-8.56],[797,-8.56],[797.5,-8.52],[798,-8.56],[798.5,-8.67],[799,-8.9],[799.5,-8.96],[800,-8.96]];
const co2_9 = [[780,248.1],[780.3,249.9],[780.7,242.8],[781.3,245.5],[781.8,248.5],[782.3,246.4],[782.8,249],[783.3,251.7],[783.6,249],[784,246.4],[784.5,249],[785,251.7],[785.5,253.5],[786,255.6],[786.5,259.6],[786.8,259.6],[787.2,256.1],[787.6,253.5],[788,247.3],[788.3,237.5],[788.7,230.4],[789,227.8],[789.3,226],[789.6,221.6],[790,218],[790.4,221.6],[790.8,219],[791.3,216.3],[791.7,211],[792,205.7],[792.5,205.3],[792.9,204.8],[793.3,209.2],[793.7,205.7],[794.2,202.1],[794.8,196.8],[795.5,193.3],[796,190.6],[796.5,188.8],[797,188],[797.5,188.8],[798,189.7],[798.5,190.6]];
const sea9 = [[780,-20.4],[781,-20.4],[782,-21.8],[783,-23.1],[784,-25.2],[785,-27.1],[786,-29.7],[787,-33.7],[788,-40.3],[789,-48.3],[790,-56.3],[791,-65.6],[792,-74.9],[793,-84.2],[794,-92.1],[795,-98.8],[796,-102.7],[797,-103.3],[798,-102.7],[799,-101.4],[800,-98.8]];
const dust9 = [[780,0.5],[780.3,0.8],[780.6,0.4],[780.9,0.9],[781.2,0.6],[781.5,1.0],[781.8,0.6],[782.1,1.1],[782.4,0.8],[782.7,1.2],[783,0.9],[783.3,1.3],[783.6,1.0],[783.9,1.4],[784.2,1.1],[784.5,1.5],[784.8,1.3],[785.1,1.8],[785.4,1.5],[785.7,2.0],[786,2.1],[786.3,2.6],[786.6,3.0],[786.9,3.4],[787.2,3.0],[787.5,2.8],[787.8,2.4],[788.1,2.1],[788.4,1.6],[788.7,2.0],[789,1.6],[789.3,1.9],[789.6,1.5],[789.9,1.2],[790.2,1.4],[790.5,1.0],[790.8,1.5],[791.1,1.8],[791.4,2.6],[791.7,2.8],[792,3.6],[792.3,3.2],[792.6,4.0],[792.9,4.3],[793.2,4.0],[793.3,9.6],[793.5,4.8],[793.8,5.4],[794.1,5.6],[794.4,5.2],[794.7,6.0],[795,6.5],[795.3,6.2],[795.6,7.4],[795.9,7.0],[796.2,8.6],[796.4,10.4],[796.6,12.7],[796.8,11.4],[797,14.9],[797.3,11.4],[797.6,17.1],[797.9,14.0],[798.1,12.6],[798.3,15.5],[798.6,13.7],[798.8,15],[799,15.4],[799.3,11.4],[799.6,10.3],[799.8,12],[800,13.1]];
const spikes9 = [[786.3,1,4],[789.3,1.2,3.5],[791.3,1.5,4]];
const band9 = [[780,0.2,1.2],[786,1.5,3.5],[788,1.2,3],[790,0.8,2.2],[792,2.5,5],[794,4,7],[795,5,8],[796,6.5,12],[797,10,18],[798,10,20],[799,9,18],[800,9,17]];

const tempSeries = [temp1,temp2,temp3,temp4,temp5,temp6,temp7,temp8,temp9];
const co2Series = [co2_1,co2_2,co2_3,co2_4,co2_5,co2_6,co2_7,co2_8,co2_9];
const seaSeries = [sea1,sea2,sea3,sea4,sea5,sea6,sea7,sea8,sea9];
const dustSeries = [dust1,dust2,dust3,dust4,dust5,dust6,dust7,dust8,dust9];
const spikeSeries = [spikes1,spikes2,spikes3,spikes4,spikes5,spikes6,spikes7,spikes8,spikes9];
const bandSeries = [band1,band2,band3,band4,band5,band6,band7,band8,band9];
const dashedAges = [15,132.5,246.2,338,428,529.7,628,738.4,792];
const arrowAges = [null,139,251.9,341,null,530.9,635,741.1,796];

// ---------------- AXIS SETTINGS ----------------
const xRanges = [[4,26.2],[121.8,146],[236,254.3],[326.2,345.7],[400,440],[515.8,540],[608.7,640],[732,748],[780,800]];
const xSteps = [[5,2.5],[5,2.5],[4,2],[4,2],[10,5],[5,2.5],[10,5],[4,2],[4,2]];
const tempRanges = [[-11,2],[-11,6],[-11,4],[-11,4],[-10,4],[-8,-2],[-10,0],[-10,-2],[-10,0]];
const tempSteps = [[2,1],[4,2],[4,2],[4,2],[4,2],[2,1],[2,1],[2,1],[2,1]];
const dustMax = [10,12,8,14,25,8,16,25,20];
const dustSteps = [[2,1],[4,2],[2,1],[4,2],[5,2.5],[2,1],[4,2],[5,2.5],[4,2]];
const co2Ranges = [[180,280],[180,300],[180,290],[190,300],[190,300],[180,260],[180,270],[170,220],[180,260]];
const co2Steps = [[20,10],[40,10],[40,20],[40,20],[40,20],[20,10],[20,10],[10,5],[20,10]];
const seaRanges = [[-140,0],[-140,20],[-120,0],[-120,20],[-140,20],[-100,-40],[-140,0],[-100,-40],[-120,0]];
const seaSteps = [[40,20],[40,20],[40,20],[40,20],[40,20],[20,10],[40,20],[20,10],[40,20]];

// ---------------- LAYOUT GEOMETRY (pixels) ----------------
const W = 1147, H = 721;
const FONT = 'Liberation Sans, Arial, Helvetica, sans-serif';
const BROWN = '#7b4a45';
const colX = [[100,302],[465,666],[830,1032]];
const rowY = [[32,183],[283,434],[534,685]];
const tempPos = [50,427,792];
const seaPos = [[347,713,1085],[352,712,1085],[348,713,1085]];
const arrowPx = [null,[35,47],[40,53],[293,307],null,[291,303],[549,561],[548,560],[551,562]];

function mk(lo, hi, step){
  const v=[]; const s=Math.ceil(lo/step-1e-9);
  for(let k=s; k*step<=hi+1e-9; k++) v.push(+(k*step).toFixed(6));
  return v;
}
function tickArrays(rg, st){
  const lo=Math.min(rg[0],rg[1]), hi=Math.max(rg[0],rg[1]);
  const maj=mk(lo,hi,st[0]), mi=mk(lo,hi,st[1]);
  return {tickmode:'array', tickvals:maj, ticktext:maj.map(String),
    minor:{tickmode:'array', tickvals:mi, ticks:'inside', ticklen:5, tickwidth:1.5, tickcolor:'#000', showgrid:false}};
}
function axisBase(color, standoff){
  return {showline:true, linecolor:'#000', linewidth:2, ticks:'inside', ticklen:5, tickwidth:1.5, tickcolor:'#000',
    showgrid:false, zeroline:false, fixedrange:true, ticklabelstandoff:standoff,
    tickfont:{family:FONT, size:13, color:color, weight:'bold'}};
}
const P = (arr,i)=>arr.map(d=>d[i]);
function lineTrace(arr, xa, ya, color, width){
  return {type:'scatter', mode:'lines', x:P(arr,0), y:P(arr,1), xaxis:xa, yaxis:ya,
    line:{color:color, width:width}, hoverinfo:'skip'};
}
function spikeTrace(spk, xa, ya){
  const xs=[], ys=[];
  spk.forEach(s=>{ xs.push(s[0],s[0],null); ys.push(s[1],s[2],null); });
  return {type:'scatter', mode:'lines', x:xs, y:ys, xaxis:xa, yaxis:ya, connectgaps:false,
    line:{color:'rgba(170,170,170,0.6)', width:1}, hoverinfo:'skip'};
}
function txt(text, xpx, ypx, size, color, angle){
  return {xref:'paper', yref:'paper', x:xpx/W, y:1-ypx/H, xanchor:'center', yanchor:'middle',
    text:'<b>'+text+'</b>', showarrow:false, textangle:angle||0, font:{family:FONT, size:size, color:color}};
}

const data=[];
const layout={width:W, height:H, margin:{l:0,r:0,t:0,b:0}, paper_bgcolor:'#fff', plot_bgcolor:'rgba(0,0,0,0)',
  showlegend:false, annotations:[], shapes:[], font:{family:FONT}};

for(let p=0;p<9;p++){
  const r=Math.floor(p/3), c=p%3;
  const xn=p+1, yb=4*p+1;
  const xid = xn===1?'x':'x'+xn, xkey = xn===1?'xaxis':'xaxis'+xn;
  const yid = n=> n===1?'y':'y'+n, ykey = n=> n===1?'yaxis':'yaxis'+n;
  const ydom=[1-rowY[r][1]/H, 1-rowY[r][0]/H];
  const xdom=[colX[c][0]/W, colX[c][1]/W];
  // axes: yb dust (base), yb+1 sea, yb+2 temp, yb+3 co2
  layout[xkey]=Object.assign(axisBase('#000',0), {domain:xdom, anchor:yid(yb), range:xRanges[p], mirror:true}, tickArrays(xRanges[p], xSteps[p]));
  layout[ykey(yb)]=Object.assign(axisBase(BROWN,2), {domain:ydom, anchor:xid, side:'left', range:[dustMax[p],0]}, tickArrays([0,dustMax[p]], dustSteps[p]));
  layout[ykey(yb+1)]=Object.assign(axisBase('#0000ff',5), {domain:ydom, overlaying:yid(yb), anchor:'free', position:seaPos[r][c]/W, side:'right', range:seaRanges[p]}, tickArrays(seaRanges[p], seaSteps[p]));
  layout[ykey(yb+2)]=Object.assign(axisBase('#000',3), {domain:ydom, overlaying:yid(yb), anchor:'free', position:tempPos[c]/W, side:'left', range:tempRanges[p]}, tickArrays(tempRanges[p], tempSteps[p]));
  layout[ykey(yb+3)]=Object.assign(axisBase('#ff0000',3), {domain:ydom, overlaying:yid(yb), anchor:xid, side:'right', range:co2Ranges[p]}, tickArrays(co2Ranges[p], co2Steps[p]));

  const band = bandSeries[p];
  data.push({type:'scatter', mode:'lines', x:P(band,0), y:P(band,1), xaxis:xid, yaxis:yid(yb), line:{width:0, color:'rgba(0,0,0,0)'}, hoverinfo:'skip'});
  data.push({type:'scatter', mode:'lines', x:P(band,0), y:P(band,2), xaxis:xid, yaxis:yid(yb), line:{width:0, color:'rgba(0,0,0,0)'}, fill:'tonexty', fillcolor:'rgba(200,200,200,0.42)', hoverinfo:'skip'});
  data.push(spikeTrace(spikeSeries[p], xid, yid(yb)));
  data.push(lineTrace(dustSeries[p], xid, yid(yb), '#6e3a35', 0.9));
  data.push(lineTrace(seaSeries[p], xid, yid(yb+1), '#0000ff', 2.2));
  data.push(lineTrace(tempSeries[p], xid, yid(yb+2), '#000000', p===0?1.4:2.2));
  data.push(lineTrace(co2Series[p], xid, yid(yb+3), '#ff0000', 2.2));

  layout.shapes.push({type:'line', xref:xid, yref:'paper', x0:dashedAges[p], x1:dashedAges[p], y0:ydom[0], y1:ydom[1],
    line:{color:'#000', width:1.5, dash:'5px,4px'}});
  if(arrowAges[p]!==null){
    const a=arrowPx[p], len=a[1]-a[0];
    const base={xref:xid, yref:'paper', xsizemode:'pixel', ysizemode:'pixel', xanchor:arrowAges[p], yanchor:1-a[1]/H};
    layout.shapes.push(Object.assign({type:'line', x0:0, x1:0, y0:4, y1:len, line:{color:'#000', width:1.3}}, base));
    layout.shapes.push(Object.assign({type:'path', path:'M0,0 L-3,6 L3,6 Z', fillcolor:'#000', line:{color:'#000', width:0.8}}, base));
  }
  const cx=(colX[c][0]+colX[c][1])/2;
  layout.annotations.push(txt(titles[p], cx, [16,269,519][r], 12.5, '#000'));
  layout.annotations.push(txt('Age (kyr BP)', cx, [212,463,714][r], 12.5, '#000'));
}
// side axis titles
const tempTitleY=[108,350,604], dustTitleY=[107,352,605], co2TitleY=[120,358,610], seaTitleY=[103,357,609];
for(let r=0;r<3;r++){
  layout.annotations.push(txt('Temp Anomaly (K)', 15, tempTitleY[r], 13, '#000', -90));
  layout.annotations.push(txt('Dust Flux (mg m<sup>-2</sup> yr<sup>-1</sup>)', 70, dustTitleY[r], 13, BROWN, -90));
  layout.annotations.push(txt('CO<sub>2</sub> (ppmv)', 1073, co2TitleY[r], 13, '#ff0000', -90));
  layout.annotations.push(txt('Sea Level Anomaly (m)', 1137, seaTitleY[r], 13, '#0000ff', -90));
}

Plotly.newPlot('chart', data, layout, {staticPlot:true, displayModeBar:false});
</script>
</body></html>
